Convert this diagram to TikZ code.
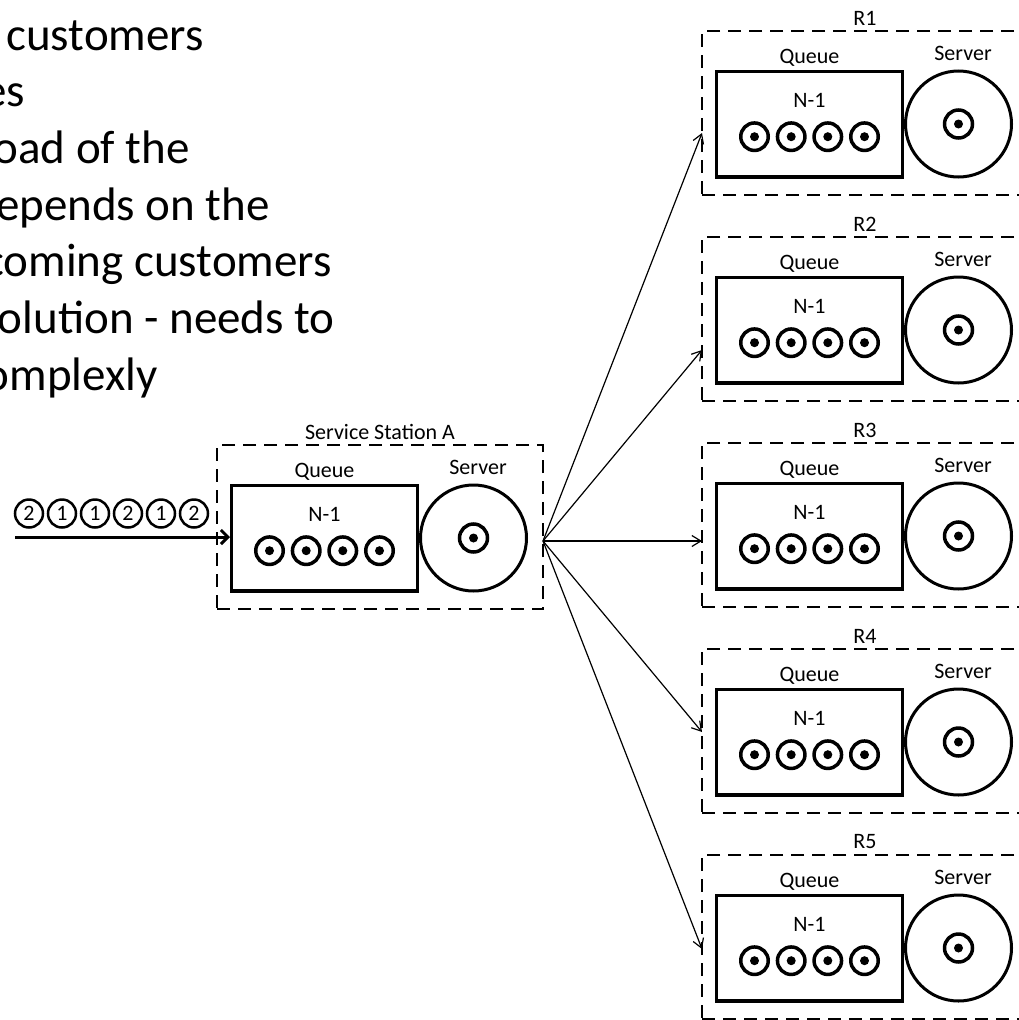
\documentclass[tikz,border=0pt]{standalone}
\usepackage{fontspec}
\setmainfont{Carlito}
\usetikzlibrary{arrows.meta}

\tikzset{
  frame/.style={draw, dash pattern=on 13pt off 8pt, line width=1.8pt,
    minimum width=326pt, minimum height=164pt, inner sep=0pt, outer sep=0pt,
    anchor=north west},
  queuebox/.style={draw, line width=3.4pt, minimum width=185.6pt,
    minimum height=105.6pt, inner sep=0pt},
  serverdisc/.style={circle, draw, line width=3pt, minimum size=106pt, inner sep=0pt},
  job/.style={circle, draw, line width=3.5pt, minimum size=27.5pt, inner sep=0pt,
    path picture={\fill (path picture bounding box.center) circle (4.5pt);}},
  bigjob/.style={job, minimum size=28pt},
  cust/.style={circle, draw, line width=2.5pt, minimum size=28pt, inner sep=0pt,
    font=\fontsize{22}{22}\selectfont},
  smalltext/.style={inner sep=0pt, font=\fontsize{22}{22}\selectfont},
  bigtext/.style={inner sep=0pt, anchor=base east, font=\fontsize{47}{47}\selectfont},
  fanarrow/.style={line width=1.2pt, -{Straight Barb[length=9pt,width=11pt]}},
  inarrow/.style={line width=3pt, -{Straight Barb[length=7pt,width=14pt]}},
}

% one service station: dashed frame at top-left corner (#2,#3)
\newcommand\qstation[4]{%
  \node[frame] (#1) at (#2,#3) {};
  \node[smalltext] (#1label) at ({#2+163},{#3-13}) {#4};
  \node[queuebox] (#1q) at ({#2+107.5},{#3+93}) {};
  \node[serverdisc] (#1s) at ({#2+256.5},{#3+93}) {};
  \node[smalltext] (#1qlabel) at ({#2+107.5},{#3+27}) {Queue};
  \node[smalltext] (#1slabel) at ({#2+261},{#3+22}) {Server};
  \node[smalltext] (#1n) at ({#2+107.5},{#3+69}) {N-1};
  \foreach \k/\dx in {1/-55,2/-18.3,3/18.3,4/55}{
    \node[job] (#1j\k) at ({#2+107.5+\dx},{#3+105.7}) {};
  }
  \node[bigjob] (#1sj) at (#1s.center) {};
}

\begin{document}
\begin{tikzpicture}[x=1pt, y=-1pt]
  \useasboundingbox (0,0) rectangle (1018,1020);

  % explanatory text, running past the left edge
  \node[bigtext] (l1) at (204,50) {customers};
  \node[bigtext] (l2) at (25,106.7) {es};
  \node[bigtext] (l3) at (190,163.3) {oad of the};
  \node[bigtext] (l4) at (270,220) {epends on the};
  \node[bigtext] (l5) at (332,276.7) {coming customers};
  \node[bigtext] (l6) at (335,333.3) {olution - needs to};
  \node[bigtext] (l7) at (158,390) {omplexly};

  % stations
  \qstation{A}{217}{445}{Service Station A}
  \qstation{R1}{702}{31}{R1}
  \qstation{R2}{702}{237}{R2}
  \qstation{R3}{702}{443}{R3}
  \qstation{R4}{702}{649}{R4}
  \qstation{R5}{702}{855}{R5}

  % arriving customers
  \foreach \i/\c in {0/2,1/1,2/1,3/2,4/1,5/2}{
    \node[cust] (c\i) at ({29+33*\i},513.5) {\c};
  }
  \coordinate (src) at (15,537);
  \draw[inarrow] (src) -- (src -| Aq.west);

  % routing to the five stations
  \coordinate (fan) at (543,541);
  \coordinate (t1) at (702,133);
  \coordinate (t2) at (702,350);
  \coordinate (t3) at (702,541);
  \coordinate (t4) at (702,732);
  \coordinate (t5) at (702,949);
  \foreach \i in {1,...,5}{
    \draw[fanarrow] (fan) -- (t\i);
  }
\end{tikzpicture}
\end{document}
